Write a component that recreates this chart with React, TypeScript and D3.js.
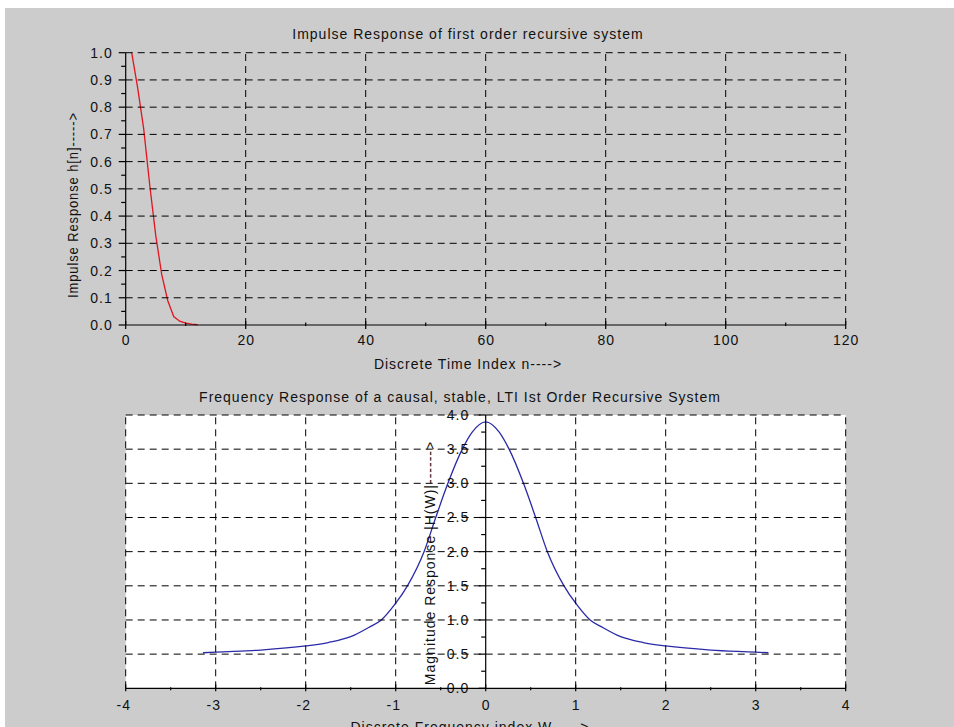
import React from "react";
import * as d3 from "d3";

// ---- data ----
const impulseN = [1, 2, 3, 4, 5, 6, 7, 8, 9, 10, 11, 12];
const impulseH = [1.0, 0.87, 0.72, 0.515, 0.33, 0.186, 0.09, 0.031, 0.014, 0.007, 0.003, 0.001];

const freqW = [
  -3.1416, -3.0, -2.5, -2.0, -1.75, -1.5, -1.3, -1.16, -1.0, -0.87, -0.685, -0.555, -0.42, -0.26, -0.15,
  0,
  0.15, 0.26, 0.42, 0.555, 0.685, 0.87, 1.0, 1.16, 1.3, 1.5, 1.75, 2.0, 2.5, 3.0, 3.1416,
];
const freqMag = [
  0.52, 0.53, 0.56, 0.62, 0.67, 0.755, 0.89, 1.0, 1.245, 1.5, 2.0, 2.5, 3.0, 3.5, 3.75,
  3.9,
  3.75, 3.5, 3.0, 2.5, 2.0, 1.5, 1.245, 1.0, 0.89, 0.755, 0.67, 0.62, 0.56, 0.53, 0.52,
];

const topXTicks = [0, 20, 40, 60, 80, 100, 120];
const topXMinor = [10, 30, 50, 70, 90, 110];
const topYTicks = [0, 0.1, 0.2, 0.3, 0.4, 0.5, 0.6, 0.7, 0.8, 0.9, 1.0];
const topYMinor = [0.05, 0.15, 0.25, 0.35, 0.45, 0.55, 0.65, 0.75, 0.85, 0.95];
const botXTicks = [-4, -3, -2, -1, 0, 1, 2, 3, 4];
const botXMinor = [-3.5, -2.5, -1.5, -0.5, 0.5, 1.5, 2.5, 3.5];
const botYTicks = [0, 0.5, 1.0, 1.5, 2.0, 2.5, 3.0, 3.5, 4.0];
const botYMinor = [0.25, 0.75, 1.25, 1.75, 2.25, 2.75, 3.25, 3.75];

const title1 = "Impulse Response of first order recursive system";
const xLabel1 = "Discrete Time Index n---->";
const yLabel1 = "Impulse Response h[n]----->";
const title2 = "Frequency Response of a causal, stable, LTI Ist Order Recursive System";
const xLabel2 = "Discrete Frequency index W----->";
const yLabel2 = "Magnitude Response |H(W)|------>";

const FONT = "'Liberation Sans', Arial, Helvetica, sans-serif";
const BG = "#cccccc";
const DASH = "7,5";

export default function App() {
  const x1 = d3.scaleLinear().domain([0, 120]).range([125.7, 845.7]);
  const y1 = d3.scaleLinear().domain([0, 1]).range([325, 52.7]);
  const x2 = d3.scaleLinear().domain([-4, 4]).range([125.7, 845.7]);
  const y2 = d3.scaleLinear().domain([0, 4]).range([688.3, 415]);

  const line1 = d3
    .line<number>()
    .x((_, i) => x1(impulseN[i]))
    .y((d) => y1(d));
  const line2 = d3
    .line<number>()
    .x((_, i) => x2(freqW[i]))
    .y((d) => y2(d))
    .curve(d3.curveMonotoneX);

  const fmt1 = (v: number) => v.toFixed(1);
  const fmtI = (v: number) => String(v);

  const textStyle = { fontFamily: FONT, fontSize: 14, letterSpacing: 1, fill: "#111" } as const;

  return (
    <svg
      width={954}
      height={727}
      style={{ position: "absolute", left: 0, top: 0, display: "block" }}
    >
      <rect x={0} y={0} width={954} height={727} fill="#ffffff" />
      <rect x={5} y={8} width={949} height={719} fill={BG} />

      {/* ================= TOP PLOT ================= */}
      <path d={line1(impulseH) || ""} fill="none" stroke="#e3141e" strokeWidth={1.3} />
      <g stroke="#000" strokeWidth={1} strokeDasharray={DASH} fill="none">
        {topYTicks.filter((t) => t > 0).map((t) => (
          <line key={"tg" + t} x1={x1(0)} x2={x1(120)} y1={y1(t)} y2={y1(t)} />
        ))}
        {topXTicks.filter((t) => t > 0).map((t) => (
          <line key={"tv" + t} x1={x1(t)} x2={x1(t)} y1={y1(0)} y2={y1(1)} />
        ))}
      </g>
      <g stroke="#000" strokeWidth={1.2}>
        <line x1={x1(0)} x2={x1(0)} y1={y1(0)} y2={y1(1)} />
        <line x1={x1(0)} x2={x1(120)} y1={y1(0)} y2={y1(0)} />
        {topYTicks.map((t) => (
          <line key={"tyt" + t} x1={x1(0) - 7} x2={x1(0)} y1={y1(t)} y2={y1(t)} />
        ))}
        {topYMinor.map((t) => (
          <line key={"tym" + t} x1={x1(0) - 4.5} x2={x1(0)} y1={y1(t)} y2={y1(t)} />
        ))}
        {topXTicks.map((t) => (
          <line key={"txt" + t} x1={x1(t)} x2={x1(t)} y1={y1(0) - 4} y2={y1(0) + 4} />
        ))}
        {topXMinor.map((t) => (
          <line key={"txm" + t} x1={x1(t)} x2={x1(t)} y1={y1(0) - 2.5} y2={y1(0) + 1} />
        ))}
      </g>
      <g style={textStyle}>
        {topYTicks.map((t) => (
          <text key={"tyl" + t} x={x1(0) - 13} y={y1(t) + 5} textAnchor="end">
            {fmt1(t)}
          </text>
        ))}
        {topXTicks.map((t) => (
          <text key={"txl" + t} x={x1(t) + 0.5} y={345} textAnchor="middle">
            {fmtI(t)}
          </text>
        ))}
        <text x={468} y={39} textAnchor="middle">{title1}</text>
        <text x={468} y={369} textAnchor="middle">{xLabel1}</text>
        <text
          transform="translate(78,205) rotate(-90)"
          textAnchor="middle"
          textLength={186}
          lengthAdjust="spacingAndGlyphs"
        >
          {yLabel1}
        </text>
      </g>

      {/* ================= BOTTOM PLOT ================= */}
      <rect x={x2(-4)} y={y2(4)} width={x2(4) - x2(-4)} height={y2(0) - y2(4)} fill="#ffffff" />
      <path d={line2(freqMag) || ""} fill="none" stroke="#2a2aa8" strokeWidth={1.3} />
      <g style={textStyle}>
        {botYTicks.map((t) => (
          <text key={"byl" + t} x={x2(0) - 16.5} y={y2(t) + 5} textAnchor="end">
            {fmt1(t)}
          </text>
        ))}
      </g>
      <g stroke="#000" strokeWidth={1} strokeDasharray={DASH} fill="none">
        {botYTicks.filter((t) => t > 0).map((t) => (
          <line key={"bg" + t} x1={x2(-4)} x2={x2(4)} y1={y2(t)} y2={y2(t)} />
        ))}
        {botXTicks.filter((t) => t !== 0).map((t) => (
          <line key={"bv" + t} x1={x2(t)} x2={x2(t)} y1={y2(0)} y2={y2(4)} />
        ))}
      </g>
      <g stroke="#000" strokeWidth={1.2}>
        <line x1={x2(0)} x2={x2(0)} y1={y2(0)} y2={y2(4)} />
        <line x1={x2(-4)} x2={x2(4)} y1={y2(0)} y2={y2(0)} />
        {botYTicks.map((t) => (
          <line key={"byt" + t} x1={x2(0) - 7} x2={x2(0)} y1={y2(t)} y2={y2(t)} />
        ))}
        {botYMinor.map((t) => (
          <line key={"bym" + t} x1={x2(0) - 4.5} x2={x2(0)} y1={y2(t)} y2={y2(t)} />
        ))}
        {botXTicks.map((t) => (
          <line key={"bxt" + t} x1={x2(t)} x2={x2(t)} y1={y2(0) - 4} y2={y2(0) + 3} />
        ))}
        {botXMinor.map((t) => (
          <line key={"bxm" + t} x1={x2(t)} x2={x2(t)} y1={y2(0) - 1} y2={y2(0) + 2} />
        ))}
      </g>
      <g style={textStyle}>
        {botXTicks.map((t) => (
          <text key={"bxl" + t} x={x2(t) - (t < 0 ? 2 : -0.5)} y={710} textAnchor="middle">
            {fmtI(t)}
          </text>
        ))}
        <text x={460} y={402} textAnchor="middle">{title2}</text>
        <text x={470} y={732} textAnchor="middle">{xLabel2}</text>
        <text transform="translate(435,563) rotate(-90)" textAnchor="middle">{yLabel2}</text>
      </g>
    </svg>
  );
}
